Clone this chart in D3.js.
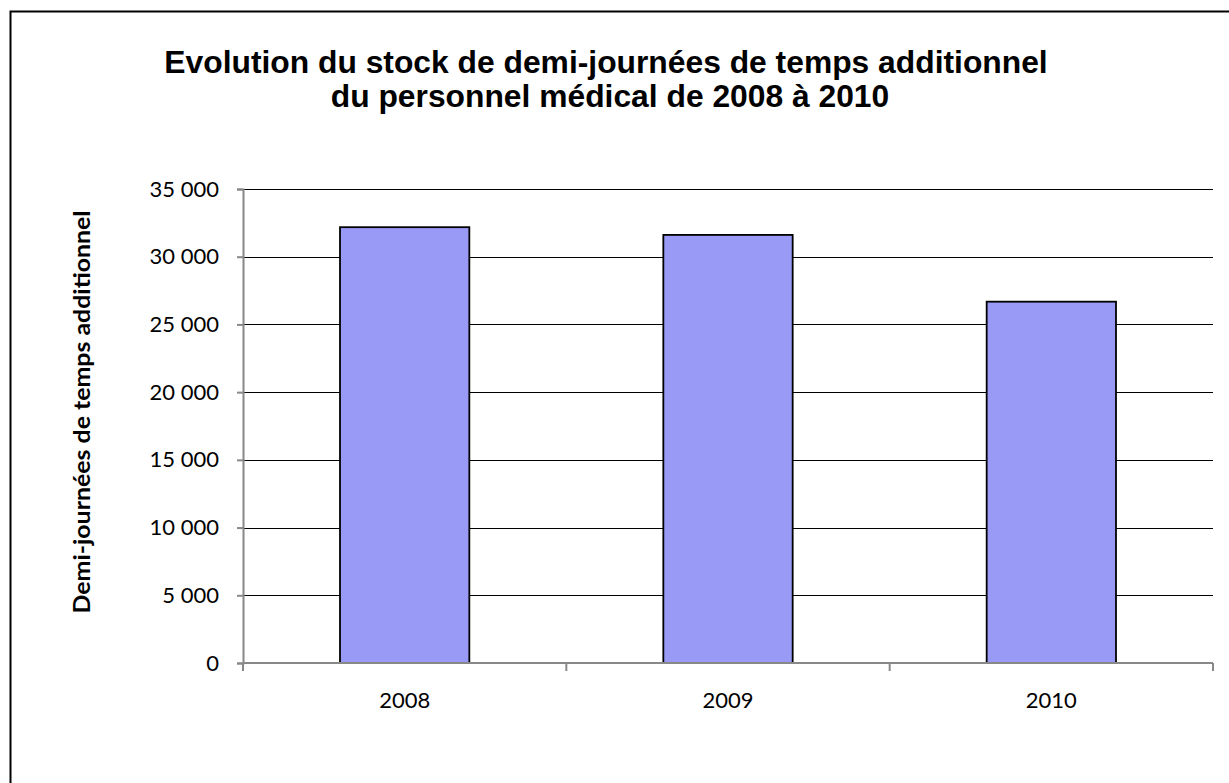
<!DOCTYPE html>
<html><head><meta charset="utf-8">
<script src="https://cdn.jsdelivr.net/npm/d3@7"></script>
<style>body{margin:0;background:#fff}svg{display:block}</style>
</head><body>
<svg id="chart" width="1229" height="783"></svg>
<script>
const categories = ["2008", "2009", "2010"];
const values = [32180, 31610, 26680];
const yTicks = [0, 5000, 10000, 15000, 20000, 25000, 30000, 35000];
const titleLines = ["Evolution du stock de demi-journées de temps additionnel", "du personnel médical de 2008 à 2010"];
const yLabel = "Demi-journées de temps additionnel";

const svg = d3.select("#chart");
const pLeft = 243, pRight = 1213, pTop = 189, pBottom = 663;
const labelFont = "Lato, 'Open Sans', sans-serif";

svg.append("rect").attr("x", 10.5).attr("y", 11.5).attr("width", 1240).attr("height", 800)
  .attr("fill", "#fff").attr("stroke", "#000").attr("stroke-width", 2);

const x = d3.scaleBand().domain(categories).range([pLeft, pRight]).paddingInner(0.6).paddingOuter(0.3);
const y = d3.scaleLinear().domain([0, 35000]).range([pBottom, pTop]);
const fmt = v => d3.format(",")(v).replace(/,/g, " ");

// gridlines
svg.append("g").selectAll("line").data(yTicks.filter(d => d > 0)).join("line")
  .attr("x1", pLeft).attr("x2", pRight).attr("y1", d => Math.round(y(d)) + 0.5).attr("y2", d => Math.round(y(d)) + 0.5)
  .attr("stroke", "#000").attr("stroke-width", 1);

// y axis
const yAxis = svg.append("g").attr("transform", `translate(${pLeft},0)`)
  .call(d3.axisLeft(y).tickValues(yTicks).tickFormat(fmt).tickSize(6).tickPadding(18));
yAxis.select(".domain").attr("stroke", "#888").attr("stroke-width", 2);
yAxis.selectAll(".tick line").attr("stroke", "#888").attr("stroke-width", 2);
yAxis.selectAll("text").attr("font-family", labelFont).attr("font-size", 22).attr("fill", "#000");

// bars
svg.append("g").selectAll("rect").data(values).join("rect")
  .attr("x", (d, i) => x(categories[i])).attr("width", x.bandwidth())
  .attr("y", d => y(d)).attr("height", d => y(0) - y(d))
  .attr("fill", "#9999F6").attr("stroke", "#000").attr("stroke-width", 1.8);

// x axis
const xLin = d3.scaleLinear().domain([0, categories.length]).range([pLeft, pRight]);
const xg = svg.append("g");
xg.append("line").attr("x1", pLeft).attr("x2", pRight).attr("y1", pBottom).attr("y2", pBottom)
  .attr("stroke", "#888").attr("stroke-width", 2);
xg.selectAll("line.t").data(d3.range(categories.length + 1)).join("line").attr("class", "t")
  .attr("x1", d => xLin(d)).attr("x2", d => xLin(d)).attr("y1", pBottom).attr("y2", pBottom + 8)
  .attr("stroke", "#888").attr("stroke-width", 2);
xg.selectAll("text").data(categories).join("text")
  .attr("x", d => x(d) + x.bandwidth() / 2).attr("y", 708)
  .attr("text-anchor", "middle").attr("font-family", labelFont).attr("font-size", 22)
  .text(d => d);

// title
svg.append("g").selectAll("text").data(titleLines).join("text")
  .attr("x", (d, i) => i === 0 ? 606 : 610).attr("y", (d, i) => 73 + i * 34)
  .attr("text-anchor", "middle").attr("font-family", "Arial, 'Liberation Sans', sans-serif")
  .attr("font-weight", "bold").attr("font-size", 31.8).text(d => d);

// y label
svg.append("text").attr("transform", `translate(90,412) rotate(-90)`)
  .attr("text-anchor", "middle").attr("font-family", labelFont)
  .attr("font-weight", "bold").attr("font-size", 23)
  .attr("textLength", 403).attr("lengthAdjust", "spacingAndGlyphs").text(yLabel);
</script>
</body></html>
